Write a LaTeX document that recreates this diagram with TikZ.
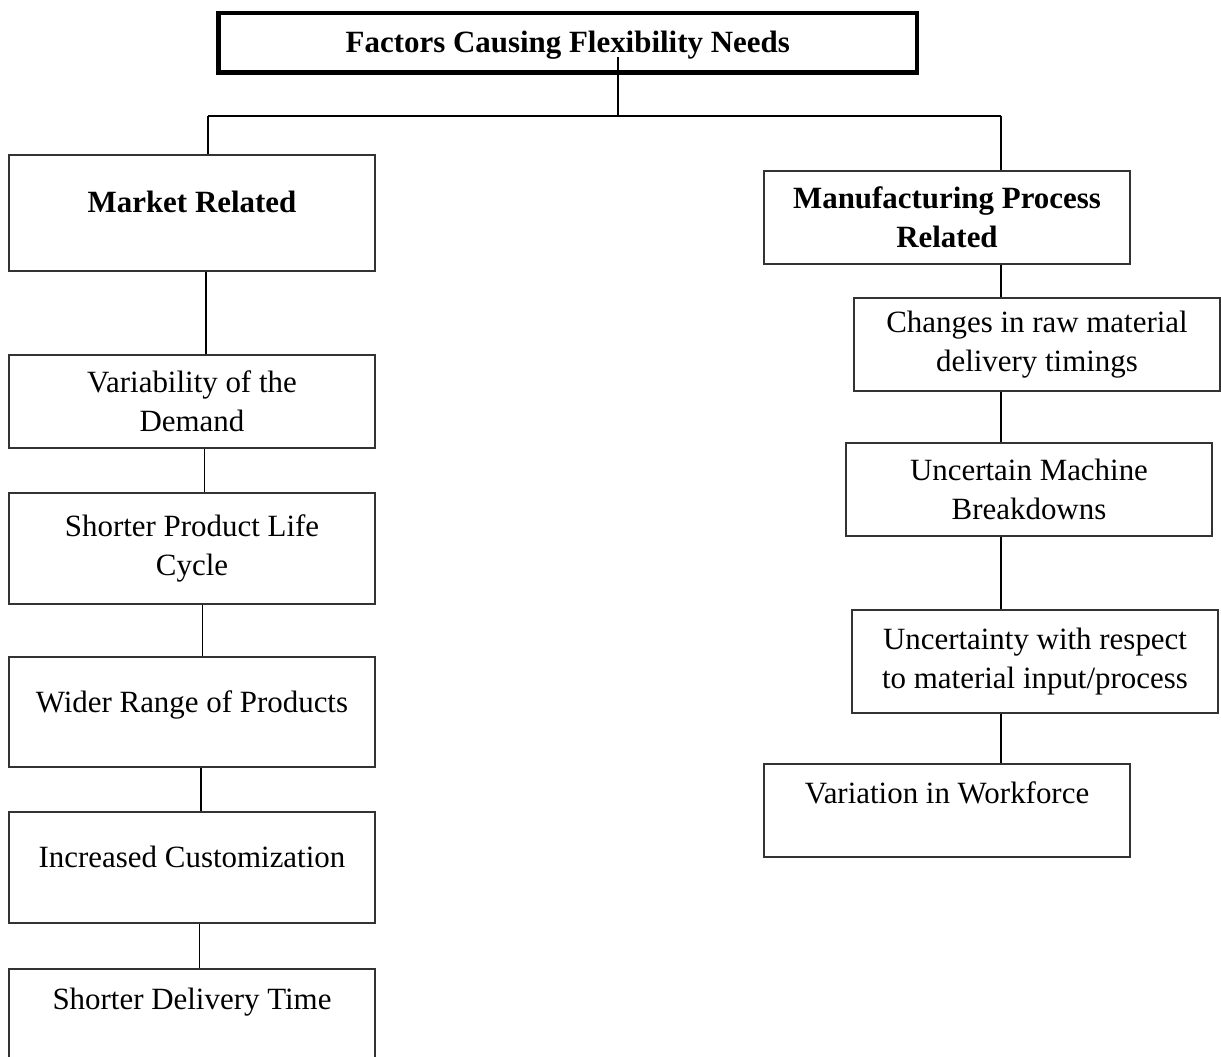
\documentclass[tikz,border=0pt]{standalone}
\usepackage{fontspec}
\setmainfont{Liberation Serif}
\newcommand{\letra}{\fontsize{17.6}{21.9}\selectfont}
\begin{document}
\begin{tikzpicture}[
  caja/.style={draw=black!80, line width=0.8pt, minimum width=7.32cm, minimum height=1.86cm,
    inner sep=1pt, align=center, font=\letra},
  arriba/.style={text height=0.45cm, text depth=#1},
  enlace/.style={draw=black, line width=1.1pt}
]
% Marco de la figura
\clip (0,0) rectangle (24.42,21.12);

% Caja del titulo, con borde grueso
\node[caja, draw=black, line width=0.09cm, minimum width=13.97cm, minimum height=1.19cm,
  text height=0.5cm, text depth=0.09cm, font=\letra\bfseries] (titulo) at (11.355,20.265)
  {Factors Causing Flexibility Needs};

% Columna de la izquierda
\node[caja, arriba=0.45cm, minimum height=2.32cm, font=\letra\bfseries] (mercado) at (3.84,16.86) {Market Related};
\node[caja] (variab) at (3.84,13.09) {Variability of the\\Demand};
\node[caja, minimum height=2.22cm] (ciclo) at (3.84,10.15) {Shorter Product Life\\Cycle};
\node[caja, arriba=0.45cm, minimum height=2.20cm] (gama) at (3.84,6.88) {Wider Range of Products};
\node[caja, arriba=0.45cm, minimum height=2.22cm] (persona) at (3.84,3.77) {Increased Customization};
\node[caja, arriba=1.07cm, minimum height=2.22cm] (entrega) at (3.84,0.63) {Shorter Delivery Time};

% Columna de la derecha
\node[caja, font=\letra\bfseries] (fabrica) at (18.94,16.77) {Manufacturing Process\\Related};
\node[caja] (materia) at (20.74,14.23) {Changes in raw material\\delivery timings};
\node[caja] (averias) at (20.58,11.33) {Uncertain Machine\\Breakdowns};
\node[caja, minimum height=2.06cm] (incierto) at (20.70,7.89) {Uncertainty with respect\\to material input/process};
\node[caja, arriba=0.75cm] (plantilla) at (18.94,4.91) {Variation in Workforce};

% Puntos del reparto
\coordinate (tallo) at (12.36,19.98);
\coordinate (cruce) at (12.36,18.80);
\coordinate (izq) at (4.16,18.80);
\coordinate (der) at (20.02,18.80);

% Lineas de union
\draw[enlace] (tallo) -- (cruce);
\draw[enlace] (izq) -- (der);
\draw[enlace] (izq) -- (izq |- mercado.north);
\draw[enlace] (der) -- (der |- fabrica.north);

\draw[enlace] ([xshift=0.28cm]mercado.south) -- ([xshift=0.28cm]variab.north);
\draw[enlace] ([xshift=0.25cm]variab.south) -- ([xshift=0.25cm]ciclo.north);
\draw[enlace] ([xshift=0.21cm]ciclo.south) -- ([xshift=0.21cm]gama.north);
\draw[enlace] ([xshift=0.18cm]gama.south) -- ([xshift=0.18cm]persona.north);
\draw[enlace] ([xshift=0.15cm]persona.south) -- ([xshift=0.15cm]entrega.north);

\draw[enlace] (fabrica.south -| der) -- (materia.north -| der);
\draw[enlace] (materia.south -| der) -- (averias.north -| der);
\draw[enlace] (averias.south -| der) -- (incierto.north -| der);
\draw[enlace] (incierto.south -| der) -- (plantilla.north -| der);
\end{tikzpicture}
\end{document}
